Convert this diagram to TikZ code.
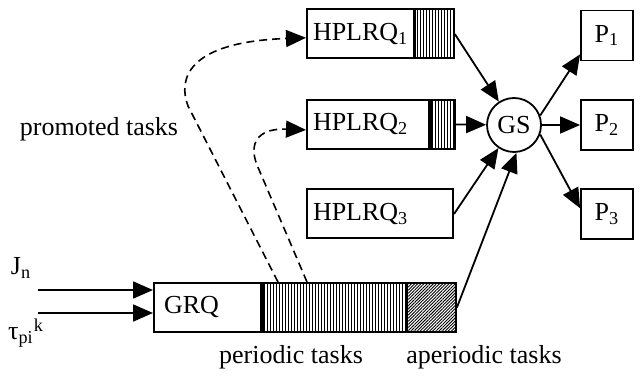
\documentclass[tikz,border=0pt]{standalone}
\usepackage{fontspec}
\setmainfont{Liberation Serif}
\usetikzlibrary{arrows.meta,positioning,patterns.meta,calc}

\tikzset{
  queue/.style={draw, line width=1pt, minimum height=24.5pt, inner xsep=3pt, inner ysep=0pt, align=left, anchor=west},
  slot/.style={draw, line width=1pt, minimum height=24.5pt, inner sep=0pt},
  periodic/.style={pattern={Lines[angle=90,distance=1.5pt,line width=0.4pt]}},
  aperiodic/.style={pattern={Lines[angle=45,distance=1.1pt,line width=0.45pt]}},
  proc/.style={draw, line width=0.9pt, minimum width=26pt, minimum height=25pt, inner sep=0pt},
  flow/.style={-{Triangle[length=10pt,width=8.5pt]}, line width=0.9pt},
  promote/.style={flow, dash pattern=on 4pt off 2.5pt, line width=0.8pt},
}

\begin{document}
\begin{tikzpicture}[x=0.5pt, y=-0.5pt, font=\fontsize{13}{15}\selectfont]
    \useasboundingbox (0,0) rectangle (640,378);

    % local queues
    \node[queue, text width=47.5pt] (hq1) at (306,34) {HPLRQ\textsubscript{1}};
    \node[slot, periodic, minimum width=19.5pt, right=0pt of hq1] (hq1p) {};
    \node[queue, text width=55pt] (hq2) at (306,124.5) {HPLRQ\textsubscript{2}};
    \node[slot, periodic, minimum width=12pt, right=0pt of hq2] (hq2p) {};
    \node[queue, text width=67pt] (hq3) at (306,214) {HPLRQ\textsubscript{3}};

    % global queue
    \node[queue, text width=43.5pt, inner xsep=5pt] (grq) at (153,307.5) {GRQ};
    \node[slot, periodic, minimum width=71.5pt, right=0pt of grq] (grqp) {};
    \node[slot, aperiodic, minimum width=24.5pt, right=0pt of grqp] (grqa) {};

    \node[circle, draw, line width=0.9pt, minimum size=27pt, inner sep=0pt] (gs) at (514,125) {GS};
    \node[proc] (p1) at (607,35.5) {P\textsubscript{1}};
    \node[proc] (p2) at (607,125) {P\textsubscript{2}};
    \node[proc] (p3) at (607,214) {P\textsubscript{3}};

    \node (jn) at (21,268) {J\textsubscript{n}};
    \node (tau) at (26,333) {τ\textsubscript{pi}\textsuperscript{k}};
    \node (promoted) at (99,129) {promoted tasks};
    \node (periodic) at (291,357) {periodic tasks};
    \node (aperiodic) at (484,357) {aperiodic tasks};

    \coordinate (jin) at (38,290);
    \coordinate (tin) at (38,313);
    \coordinate (pr1) at ($(grqp.north west)+(16,0)$);
    \coordinate (pr2) at ($(grqp.north west)+(45,0)$);

    \draw[flow] (jin) -- (jin -| grq.west);
    \draw[flow] (tin) -- (tin -| grq.west);

    \draw[promote] (pr1) -- (188,106) .. controls (178,80) and (186,42) .. (hq1.184);
    \draw[promote] (pr2) -- (257,165) .. controls (249,145) and (256,128) .. (hq2.185);

    \draw[flow] (hq1p.east) -- (gs);
    \draw[flow] (hq2p.east) -- (gs);
    \draw[flow] (hq3.east) -- (gs);
    \draw[flow] (grqa.east) -- (gs.-85);

    \draw[flow] (gs.20) -- (p1.215);
    \draw[flow] (gs) -- (p2);
    \draw[flow] (gs.-20) -- (p3.168);
\end{tikzpicture}
\end{document}
